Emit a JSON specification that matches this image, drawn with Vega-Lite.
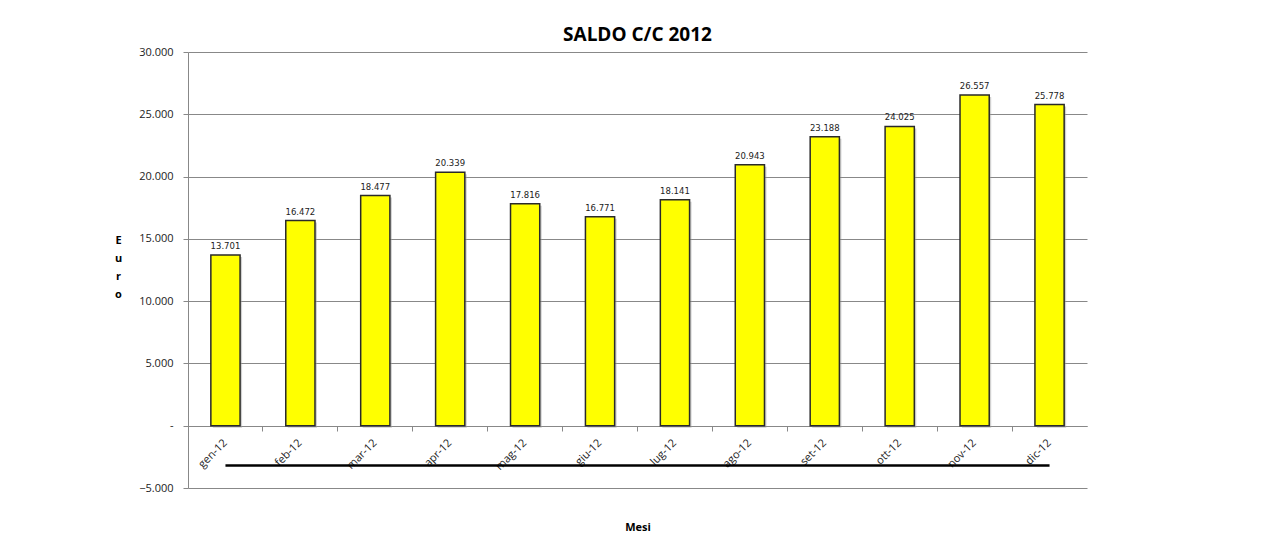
{
  "$schema": "https://vega.github.io/schema/vega-lite/v6.json",
  "width": 899,
  "height": 436,
  "autosize": {"type": "none"},
  "padding": {"left": 188, "top": 52, "right": 176, "bottom": 49},
  "background": "white",
  "title": {
    "text": "SALDO C/C 2012",
    "font": "Open Sans",
    "fontSize": 19,
    "fontWeight": "bold",
    "color": "#000000",
    "anchor": "middle",
    "offset": 1
  },
  "data": {
    "values": [
      {"mese": "gen-12", "saldo": 13701, "linea": -3200},
      {"mese": "feb-12", "saldo": 16472, "linea": -3200},
      {"mese": "mar-12", "saldo": 18477, "linea": -3200},
      {"mese": "apr-12", "saldo": 20339, "linea": -3200},
      {"mese": "mag-12", "saldo": 17816, "linea": -3200},
      {"mese": "giu-12", "saldo": 16771, "linea": -3200},
      {"mese": "lug-12", "saldo": 18141, "linea": -3200},
      {"mese": "ago-12", "saldo": 20943, "linea": -3200},
      {"mese": "set-12", "saldo": 23188, "linea": -3200},
      {"mese": "ott-12", "saldo": 24025, "linea": -3200},
      {"mese": "nov-12", "saldo": 26557, "linea": -3200},
      {"mese": "dic-12", "saldo": 25778, "linea": -3200}
    ]
  },
  "encoding": {
    "x": {
      "field": "mese",
      "type": "nominal",
      "sort": null,
      "scale": {"paddingInner": 0, "paddingOuter": 0},
      "axis": {
        "title": "Mesi",
        "titleFont": "Open Sans",
        "titleFontSize": 11,
        "titleFontWeight": "bold",
        "titleColor": "#000000",
        "titleY": 101,
        "titleBaseline": "middle",
        "offset": -62,
        "bandPosition": 0,
        "labelAngle": -45,
        "labelAlign": "right",
        "labelBaseline": "middle",
        "labelPadding": 10,
        "labelFont": "Open Sans",
        "labelFontSize": 11,
        "labelColor": "#222222",
        "domainColor": "#888888",
        "tickColor": "#888888",
        "tickSize": 5,
        "grid": false
      }
    }
  },
  "layer": [
    {
      "mark": {"type": "bar", "width": {"band": 0.39}, "fill": "#9a9a9a", "opacity": 0.45, "xOffset": 2, "yOffset": 2},
      "encoding": {
        "y": {"field": "saldo", "type": "quantitative"}
      }
    },
    {
      "mark": {"type": "bar", "width": {"band": 0.39}, "fill": "#ffff00", "stroke": "#2a2a2a", "strokeWidth": 1.5},
      "encoding": {
        "y": {
          "field": "saldo",
          "type": "quantitative",
          "scale": {"domain": [-5000, 30000], "nice": false, "zero": false},
          "axis": {
            "values": [-5000, 0, 5000, 10000, 15000, 20000, 25000, 30000],
            "labelExpr": "datum.value == 0 ? '-' : replace(format(datum.value, ','), ',', '.')",
            "labelFont": "Open Sans",
            "labelFontSize": 11,
            "labelColor": "#222222",
            "labelPadding": 10,
            "tickSize": 5,
            "tickColor": "#888888",
            "domainColor": "#888888",
            "gridColor": "#888888",
            "gridWidth": 1,
            "gridOpacity": 1,
            "title": ["E", "u", "r", "o"],
            "titleAngle": 0,
            "titleX": -70,
            "titleY": 182,
            "titleAlign": "center",
            "titleBaseline": "top",
            "titleLineHeight": 18,
            "titleFont": "Open Sans",
            "titleFontSize": 11,
            "titleFontWeight": "bold",
            "titleColor": "#000000"
          }
        }
      }
    },
    {
      "mark": {"type": "text", "font": "DejaVu Sans", "fontSize": 8.5, "color": "#222222", "baseline": "bottom", "dy": -4},
      "encoding": {
        "y": {"field": "saldo", "type": "quantitative"},
        "text": {"field": "saldo", "type": "quantitative", "format": ",.0f", "formatType": "number"}
      }
    },
    {
      "mark": {"type": "line", "color": "#000000", "strokeWidth": 2.5},
      "encoding": {
        "y": {"field": "linea", "type": "quantitative"}
      }
    }
  ],
  "config": {
    "view": {"stroke": null},
    "locale": {
      "number": {"decimal": ",", "thousands": ".", "grouping": [3], "currency": ["", " €"]}
    }
  }
}
